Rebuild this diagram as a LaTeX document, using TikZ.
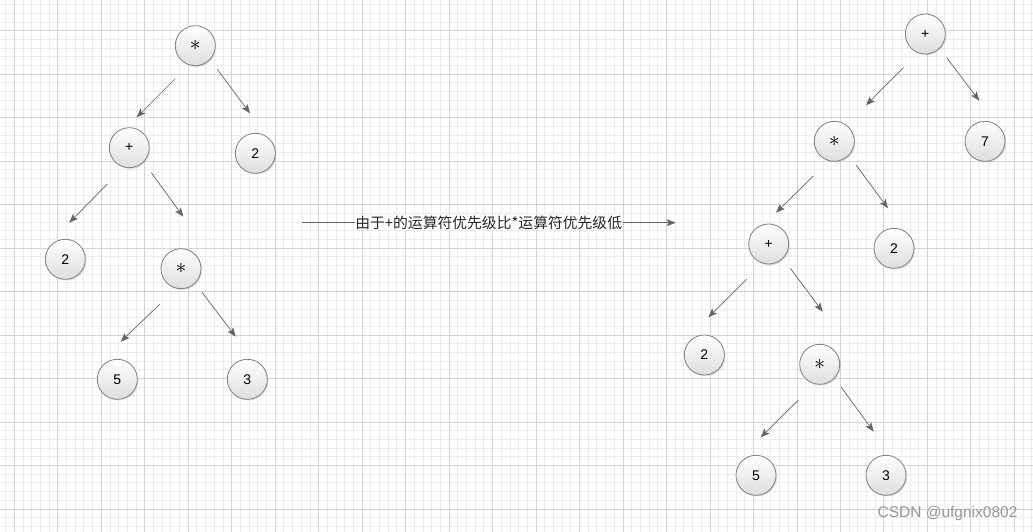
\documentclass[tikz,border=0pt]{standalone}
\usepackage{fontspec}
\setmainfont{Liberation Sans}
\newfontfamily\cjk{Noto Sans CJK SC}
\usetikzlibrary{shapes}
\usetikzlibrary{calc}
\usetikzlibrary{positioning}
\usetikzlibrary{arrows.meta}
\usetikzlibrary{shadows}
\providecommand*{\pgfmathsetnewmacro}[2]{%
    \newcommand*{#1}{}% Error if already defined
    \pgfmathsetmacro{#1}{#2}%
}
\newcommand*{\opstar}{\scalebox{1.5}{$\ast$}}
\definecolor{minorline}{RGB}{236,236,236}
\definecolor{majorline}{RGB}{212,212,212}
\definecolor{nodeborder}{RGB}{128,128,128}
\definecolor{nodefill}{RGB}{222,222,222}
\definecolor{edgecol}{RGB}{100,100,100}
\definecolor{marktext}{RGB}{150,150,150}
\tikzset{
    tnode/.style = {circle, draw = nodeborder, line width = 0.8pt, minimum size = 40pt, inner sep = 0pt,
        top color = white, bottom color = nodefill, font = \fontsize{14}{16}\selectfont,
        drop shadow = {shadow xshift = 1.2pt, shadow yshift = -1.2pt, opacity = 0.25}},
    edge/.style = {draw = edgecol, line width = 0.7pt, -{Stealth[length = 9pt, width = 7pt, inset = 2pt]}},
}

\begin{document}
\begin{tikzpicture}[x = 1pt, y = -1pt]
    \pgfmathsetnewmacro{\gs}{8.696}
    \useasboundingbox[clip] (0,0) rectangle (1033,532);

    % grid paper
    \begin{scope}[shift = {(14.3,30.7)}]
        \draw[minorline, line width = 0.9pt, step = \gs pt] (-20,510) grid (1030,-40);
        \draw[majorline, line width = 0.9pt, step = 5*\gs pt] (-20,510) grid (1030,-40);
    \end{scope}

    % tree before
    \begin{scope}[on grid]
        \node (m1) at (195.3,45.7) [tnode] {\opstar};

        \node (p1) [tnode, below left = 102pt and 66pt of m1] {+};
        \node (n2a) [tnode, below right = 107.6pt and 60pt of m1] {2};
        \node (n2b) [tnode, below left = 111.6pt and 64pt of p1] {2};
        \node (m2) [tnode, below right = 121pt and 51.7pt of p1] {\opstar};
        \node (n5) [tnode, below left = 110.6pt and 63.7pt of m2] {5};
        \node (n3) [tnode, below right = 110.6pt and 66.3pt of m2] {3};

        \draw[edge] ([shift = {(-20.6,33.6)}]m1.center) -- ([shift = {(7.4,-30.4)}]p1.center);
        \draw[edge] ([shift = {(22,23.6)}]m1.center) -- ([shift = {(-5.3,-40)}]n2a.center);
        \draw[edge] ([shift = {(-22,36.3)}]p1.center) -- ([shift = {(4,-36.6)}]n2b.center);
        \draw[edge] ([shift = {(22,25)}]p1.center) -- ([shift = {(2.3,-52)}]m2.center);
        \draw[edge] ([shift = {(-21.3,35.6)}]m2.center) -- ([shift = {(3.4,-37.6)}]n5.center);
        \draw[edge] ([shift = {(21,23.6)}]m2.center) -- ([shift = {(-11.6,-42.6)}]n3.center);
    \end{scope}

    % tree after
    \begin{scope}[on grid]
        \node (rp1) at (925.3,34) [tnode] {+};

        \node (rm1) [tnode, below left = 107.3pt and 91pt of rp1] {\opstar};
        \node (r7) [tnode, below right = 107.3pt and 59.7pt of rp1] {7};
        \node (rp2) [tnode, below left = 102.7pt and 65.6pt of rm1] {+};
        \node (r2a) [tnode, below right = 107pt and 59.7pt of rm1] {2};
        \node (r2b) [tnode, below left = 111pt and 64.4pt of rp2] {2};
        \node (rm2) [tnode, below right = 120.3pt and 51pt of rp2] {\opstar};
        \node (r5) [tnode, below left = 111pt and 63.7pt of rm2] {5};
        \node (r3) [tnode, below right = 111pt and 66.3pt of rm2] {3};

        \draw[edge] ([shift = {(-22,33.7)}]rp1.center) -- ([shift = {(31.7,-36)}]rm1.center);
        \draw[edge] ([shift = {(21.4,23.7)}]rp1.center) -- ([shift = {(-5.7,-40.6)}]r7.center);
        \draw[edge] ([shift = {(-21,34.7)}]rm1.center) -- ([shift = {(7.3,-31.3)}]rp2.center);
        \draw[edge] ([shift = {(22,24)}]rm1.center) -- ([shift = {(-6,-40)}]r2a.center);
        \draw[edge] ([shift = {(-22,35.3)}]rp2.center) -- ([shift = {(4,-37.7)}]r2b.center);
        \draw[edge] ([shift = {(21.6,24.3)}]rp2.center) -- ([shift = {(3,-52.6)}]rm2.center);
        \draw[edge] ([shift = {(-21.4,35.7)}]rm2.center) -- ([shift = {(4.7,-38)}]r5.center);
        \draw[edge] ([shift = {(21.6,23)}]rm2.center) -- ([shift = {(-12.3,-43.6)}]r3.center);
    \end{scope}

    % middle note
    \coordinate (ms) at (301.7,222.7);
    \coordinate (me) at (675.7,222.7);
    \draw[edge] (ms) -- node (note) [fill = white, inner sep = 0.5pt, text = black!85, font = \cjk\fontsize{14.8}{17}\selectfont] {由于+的运算符优先级比*运算符优先级低} (me);

    \node (mark) at (947.5,513) [text = marktext, font = \fontsize{15.5}{18}\selectfont] {CSDN @ufgnix0802};

\end{tikzpicture}
\end{document}
